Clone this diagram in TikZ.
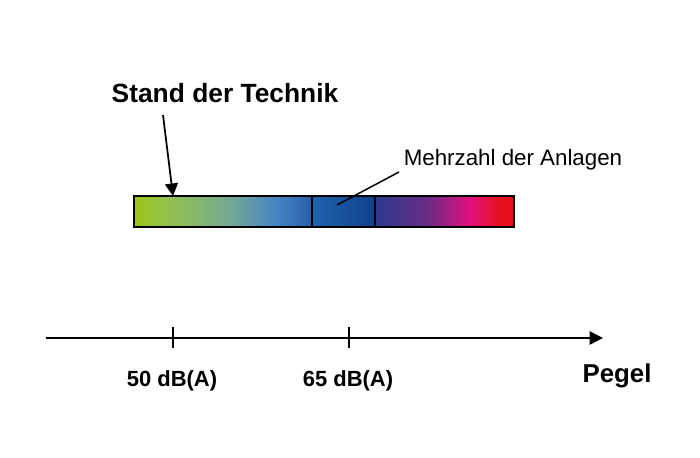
\documentclass[tikz,border=0pt]{standalone}
\usepackage{fontspec}
\setmainfont{Liberation Sans}
\usetikzlibrary{arrows.meta,positioning,calc}
\definecolor{gruen}{RGB}{156,196,28}
\definecolor{hellgruen}{RGB}{148,194,74}
\definecolor{petrol}{RGB}{115,168,148}
\definecolor{hellblau}{RGB}{70,132,196}
\definecolor{blau}{RGB}{40,94,168}
\definecolor{mittelblau}{RGB}{30,99,174}
\definecolor{dunkelblau}{RGB}{18,64,140}
\definecolor{indigo}{RGB}{43,59,142}
\definecolor{lila}{RGB}{106,42,132}
\definecolor{magenta}{RGB}{224,16,126}
\definecolor{rot}{RGB}{232,16,28}

\pgfdeclarehorizontalshading{pegelLinks}{100bp}{%
  color(0bp)=(gruen); color(25bp)=(gruen); color(34bp)=(hellgruen);
  color(52bp)=(petrol); color(65bp)=(hellblau); color(75bp)=(blau); color(100bp)=(blau)}
\pgfdeclarehorizontalshading{pegelMitte}{100bp}{%
  color(0bp)=(mittelblau); color(25bp)=(mittelblau);
  color(75bp)=(dunkelblau); color(100bp)=(dunkelblau)}
\pgfdeclarehorizontalshading{pegelRechts}{100bp}{%
  color(0bp)=(indigo); color(25bp)=(indigo); color(44bp)=(lila);
  color(59bp)=(magenta); color(70bp)=(rot); color(75bp)=(rot); color(100bp)=(rot)}

\tikzset{
  titel/.style={font=\bfseries\fontsize{15}{18}\selectfont},
  hinweis/.style={font=\fontsize{12.7}{15}\selectfont},
  wert/.style={font=\bfseries\fontsize{12.5}{15}\selectfont},
  achsname/.style={font=\bfseries\fontsize{14.7}{17}\selectfont}
}

\begin{document}
\begin{tikzpicture}[line width=0.85pt]

    % Rahmen
    \useasboundingbox (0,0) rectangle (14,9.14);

    \def\barL{2.68}
    \def\barA{6.24}
    \def\barB{7.50}
    \def\barR{10.28}
    \def\barBot{4.60}
    \def\barTop{5.22}
    \def\axisY{2.38}

    % =========================================================================
    % BALKEN
    % =========================================================================
    \shade[shading=pegelLinks] (\barL,\barBot) rectangle (\barA,\barTop);
    \shade[shading=pegelMitte] (\barA,\barBot) rectangle (\barB,\barTop);
    \shade[shading=pegelRechts] (\barB,\barBot) rectangle (\barR,\barTop);
    \draw (\barL,\barBot) rectangle (\barR,\barTop);
    \draw (\barA,\barBot) -- (\barA,\barTop);
    \draw (\barB,\barBot) -- (\barB,\barTop);

    % =========================================================================
    % BESCHRIFTUNGEN
    % =========================================================================
    \node[titel] (stand) at (4.50,7.28) {Stand der Technik};
    \coordinate (standFrom) at (3.26,6.84);
    \coordinate (standTip) at (3.46,\barTop);
    \draw[line width=1pt, -{Triangle[length=0.25cm,width=0.26cm]}] (standFrom) -- (standTip);

    \node[hinweis] (mehrzahl) at (10.26,5.94) {Mehrzahl der Anlagen};
    \coordinate (mehrzahlFrom) at (7.98,5.70);
    \coordinate (mehrzahlTip) at (6.74,5.04);
    \draw (mehrzahlFrom) -- (mehrzahlTip);

    % =========================================================================
    % ACHSE
    % =========================================================================
    \coordinate (axisStart) at (0.92,\axisY);
    \coordinate (axisEnd) at (12.06,\axisY);
    \draw[-{Triangle[length=0.27cm,width=0.27cm]}] (axisStart) -- (axisEnd);

    \coordinate (tick50) at (3.46,\axisY);
    \coordinate (tick65) at (6.98,\axisY);
    \draw[line width=0.6pt] ($(tick50)+(0,0.22)$) -- ($(tick50)-(0,0.20)$);
    \draw[line width=0.6pt] ($(tick65)+(0,0.22)$) -- ($(tick65)-(0,0.20)$);

    \node[wert] (l50) at (3.44,1.52) {50 dB(A)};
    \node[wert] (l65) at (6.96,1.52) {65 dB(A)};
    \node[achsname] (pegel) at (12.34,1.62) {Pegel};

\end{tikzpicture}
\end{document}
